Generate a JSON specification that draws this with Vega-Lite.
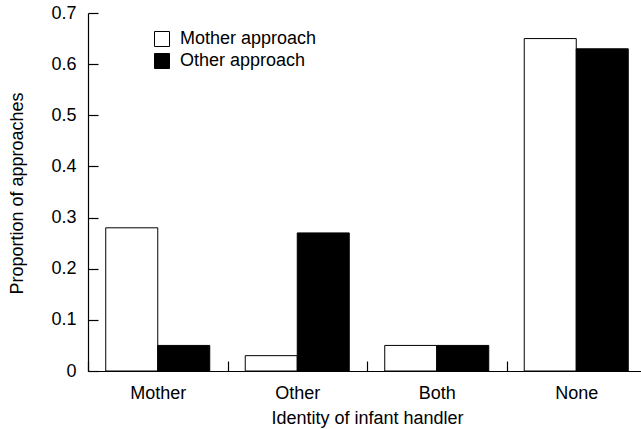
{
  "$schema": "https://vega.github.io/schema/vega-lite/v6.json",
  "width": 553,
  "height": 358,
  "autosize": {"type": "none"},
  "padding": {"left": 88, "top": 13, "right": 0, "bottom": 58},
  "config": {
    "font": "Liberation Sans",
    "view": {"stroke": null},
    "axis": {
      "grid": false,
      "domainColor": "black",
      "domainWidth": 1.2,
      "tickColor": "black",
      "tickWidth": 1.2,
      "labelColor": "black",
      "titleColor": "black",
      "labelFontSize": 18,
      "titleFontSize": 18,
      "titleFontWeight": "normal",
      "labelFont": "Liberation Sans",
      "titleFont": "Liberation Sans"
    }
  },
  "data": {
    "values": [
      {"handler": "Mother", "series": "Mother approach", "proportion": 0.28},
      {"handler": "Mother", "series": "Other approach", "proportion": 0.05},
      {"handler": "Other", "series": "Mother approach", "proportion": 0.03},
      {"handler": "Other", "series": "Other approach", "proportion": 0.27},
      {"handler": "Both", "series": "Mother approach", "proportion": 0.05},
      {"handler": "Both", "series": "Other approach", "proportion": 0.05},
      {"handler": "None", "series": "Mother approach", "proportion": 0.65},
      {"handler": "None", "series": "Other approach", "proportion": 0.63}
    ]
  },
  "mark": {"type": "bar", "stroke": "black", "strokeWidth": 1},
  "encoding": {
    "x": {
      "field": "handler",
      "type": "nominal",
      "sort": ["Mother", "Other", "Both", "None"],
      "scale": {"range": [0, 558], "paddingInner": 0, "paddingOuter": 0},
      "axis": {
        "labelAngle": 0,
        "tickBand": "extent",
        "tickSize": -10,
        "labelPadding": 37,
        "labelBaseline": "alphabetic",
        "title": "Identity of infant handler",
        "titleX": 279,
        "titleY": 52,
        "titleBaseline": "alphabetic",
        "titleAnchor": "middle",
        "titleAlign": "center"
      }
    },
    "xOffset": {
      "field": "series",
      "type": "nominal",
      "sort": ["Mother approach", "Other approach"],
      "scale": {"paddingInner": 0, "paddingOuter": 0.341}
    },
    "y": {
      "field": "proportion",
      "type": "quantitative",
      "scale": {"domain": [0, 0.7], "nice": false},
      "axis": {
        "values": [0, 0.1, 0.2, 0.3, 0.4, 0.5, 0.6, 0.7],
        "tickSize": -10,
        "labelPadding": 22,
        "labelExpr": "datum.value == 0 ? '0' : format(datum.value, '.1f')",
        "title": "Proportion of approaches",
        "titleAngle": -90,
        "titleX": -71,
        "titleY": 180,
        "titleBaseline": "middle",
        "titleAlign": "center"
      }
    },
    "color": {
      "field": "series",
      "type": "nominal",
      "sort": ["Mother approach", "Other approach"],
      "scale": {"domain": ["Mother approach", "Other approach"], "range": ["white", "black"]},
      "legend": {
        "orient": "none",
        "legendX": 65,
        "legendY": 17,
        "title": null,
        "symbolType": "square",
        "symbolSize": 225,
        "symbolStrokeColor": "black",
        "symbolStrokeWidth": 1,
        "symbolOpacity": 1,
        "labelFontSize": 18,
        "labelOffset": 9,
        "labelColor": "black",
        "rowPadding": 2,
        "padding": 0
      }
    }
  }
}
